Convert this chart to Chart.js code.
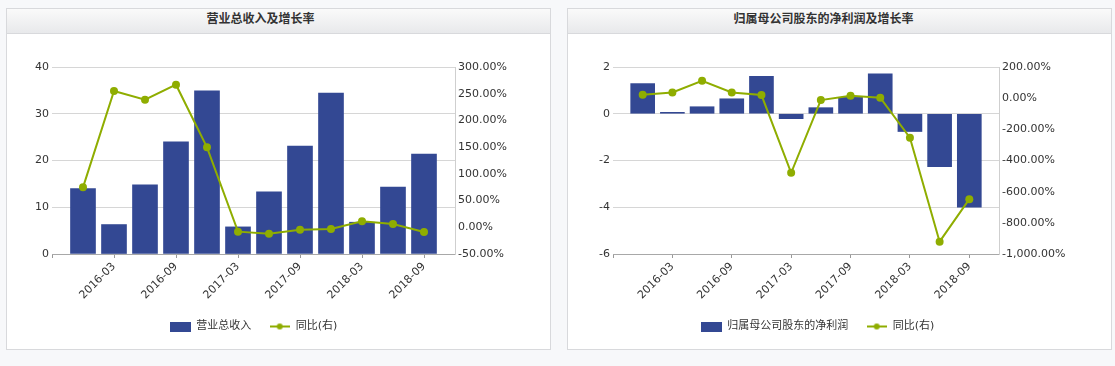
<!DOCTYPE html>
<html>
<head>
<meta charset="utf-8">
<script src="https://cdn.jsdelivr.net/npm/chart.js@4.4.0/dist/chart.umd.min.js"></script>
<style>
body{margin:0;background:#f7f8fa;width:1115px;height:366px;overflow:hidden;position:relative;}
.panel{position:absolute;top:8px;width:543px;height:340px;border:1px solid #d8d9dc;background:#fff;}
.head{height:24px;line-height:24px;border-bottom:1px solid #d8d9dc;background:linear-gradient(#fafafa,#e8e9eb);
  text-align:center;font:bold 12px "Noto Sans CJK SC",sans-serif;color:#333;padding-right:36px;}
.panel canvas{position:absolute;left:0;top:25px;}
</style>
</head>
<body>
<div class="panel" style="left:6px">
  <div class="head">营业总收入及增长率</div>
  <canvas id="c1" width="543" height="315"></canvas>
</div>
<div class="panel" style="left:567px">
  <div class="head" style="padding-right:32px">归属母公司股东的净利润及增长率</div>
  <canvas id="c2" width="543" height="315"></canvas>
</div>
<script>
// quarters on the x axis, only every other one gets a label
var quarters = ['2015-12','2016-03','2016-06','2016-09','2016-12','2017-03','2017-06','2017-09','2017-12','2018-03','2018-06','2018-09'];
var shownTicks = ['2016-03','2016-09','2017-03','2017-09','2018-03','2018-09'];

// 营业总收入 (left chart)
var revenue = [14.0, 6.3, 14.8, 24.0, 34.9, 5.8, 13.3, 23.1, 34.4, 6.8, 14.3, 21.4];
var revenueYoY = [74.8, 255, 238.8, 266.9, 149.7, -8.2, -11.9, -4.4, -3.2, 11.2, 6.2, -8.8];
var revenueTicks = [0, 10, 20, 30, 40];
var revenueYoYTicks = [-50, 0, 50, 100, 150, 200, 250, 300];

// 归属母公司股东的净利润 (right chart)
var profit = [1.29, 0.06, 0.3, 0.64, 1.6, -0.21, 0.26, 0.7, 1.71, -0.76, -2.26, -4.0];
var profitYoY = [22, 37, 112, 37, 20, -479, -12, 16, 3, -254, -921, -648];
var profitTicks = [-6, -4, -2, 0, 2];
var profitYoYTicks = [-1000, -800, -600, -400, -200, 0, 200];

var BAR = '#334893';
var LINE = '#8fad00';
var tickFont = {family: 'DejaVu Sans', size: 11};

function barSwatch(){
  var c = document.createElement('canvas'); c.width = 21; c.height = 10;
  var g = c.getContext('2d'); g.fillStyle = BAR; g.fillRect(0, 0, 21, 10);
  return c;
}
function lineSwatch(){
  var c = document.createElement('canvas'); c.width = 20; c.height = 8;
  var g = c.getContext('2d');
  g.strokeStyle = LINE; g.lineWidth = 2;
  g.beginPath(); g.moveTo(0, 4); g.lineTo(20, 4); g.stroke();
  g.fillStyle = LINE; g.beginPath(); g.arc(10, 4, 3, 0, Math.PI*2); g.fill();
  return c;
}

// put the legend under the plot area instead of the whole canvas
var legendShift = {
  id: 'legendShift',
  afterLayout: function(chart, args, opts){
    var l = chart.legend, a = chart.chartArea;
    if (!l) return;
    l.left = a.left + (opts.dx || 0);
    l.right = a.right + (opts.dx || 0);
    l.width = l.right - l.left;
  }
};

function pct(v){
  return v.toLocaleString('en-US', {minimumFractionDigits: 2, maximumFractionDigits: 2}) + '%';
}

function makeChart(id, barName, bars, yoy, leftTicks, rightTicks, rightWidth, dx, barW){
  var labels = [''].concat(quarters).concat(['']);
  var ctx = document.getElementById(id).getContext('2d');
  return new Chart(ctx, {
    type: 'bar',
    data: {
      labels: labels,
      datasets: [
        {
          type: 'bar',
          label: barName,
          data: [null].concat(bars).concat([null]),
          backgroundColor: BAR,
          barThickness: barW,
          yAxisID: 'y',
          order: 2
        },
        {
          type: 'line',
          label: '同比(右)',
          data: [null].concat(yoy).concat([null]),
          borderColor: LINE,
          backgroundColor: LINE,
          borderWidth: 2,
          pointRadius: 4,
          pointBackgroundColor: LINE,
          pointBorderWidth: 0,
          fill: false,
          tension: 0,
          yAxisID: 'y1',
          order: 1
        }
      ]
    },
    options: {
      responsive: false,
      animation: false,
      layout: {padding: {top: 33, bottom: 7, left: 0, right: 0}},
      scales: {
        x: {
          type: 'category',
          offset: false,
          grid: {
            display: true, drawOnChartArea: false, drawTicks: true, tickLength: 4, offset: false,
            color: function(c){
              var lab = labels[c.index];
              return (c.index === 0 || shownTicks.indexOf(lab) >= 0) ? '#999' : 'rgba(0,0,0,0)';
            }
          },
          border: {display: true, color: '#a8a8a8'},
          ticks: {
            autoSkip: false, minRotation: 45, maxRotation: 45, padding: 2,
            color: '#333', font: tickFont,
            callback: function(v, i){ return shownTicks.indexOf(labels[i]) >= 0 ? labels[i] : ''; }
          },
          afterFit: function(s){ s.height = 49; }
        },
        y: {
          position: 'left',
          min: leftTicks[0], max: leftTicks[leftTicks.length-1],
          afterBuildTicks: function(s){ s.ticks = leftTicks.map(function(v){ return {value: v}; }); },
          ticks: {padding: 3, color: '#333', font: tickFont},
          grid: {color: '#d6d6d6', drawTicks: false},
          border: {display: false},
          afterFit: function(s){ s.width = 45; }
        },
        y1: {
          position: 'right',
          min: rightTicks[0], max: rightTicks[rightTicks.length-1],
          afterBuildTicks: function(s){ s.ticks = rightTicks.map(function(v){ return {value: v}; }); },
          ticks: {padding: 3, color: '#333', font: tickFont, callback: pct},
          grid: {display: false, drawTicks: false},
          border: {display: true, color: '#cfcfcf'},
          afterFit: function(s){ s.width = rightWidth; }
        }
      },
      plugins: {
        legendShift: {dx: dx},
        tooltip: {enabled: false},
        legend: {
          display: true,
          position: 'bottom',
          labels: {
            usePointStyle: true,
            pointStyleWidth: 21,
            padding: 18,
            color: '#333',
            font: {family: '"DejaVu Sans", "Noto Sans CJK SC"', size: 11},
            generateLabels: function(){
              return [
                {text: barName, pointStyle: barSwatch(), fillStyle: BAR, strokeStyle: 'rgba(0,0,0,0)', lineWidth: 0, hidden: false, datasetIndex: 0, fontColor: '#333'},
                {text: '同比(右)', pointStyle: lineSwatch(), fillStyle: LINE, strokeStyle: 'rgba(0,0,0,0)', lineWidth: 0, hidden: false, datasetIndex: 1, fontColor: '#333'}
              ];
            }
          }
        }
      }
    },
    plugins: [legendShift]
  });
}

makeChart('c1', '营业总收入', revenue, revenueYoY, revenueTicks, revenueYoYTicks, 95, 0, 25);
makeChart('c2', '归属母公司股东的净利润', profit, profitYoY, profitTicks, profitYoYTicks, 112, 11.5, 24);
</script>
</body>
</html>
